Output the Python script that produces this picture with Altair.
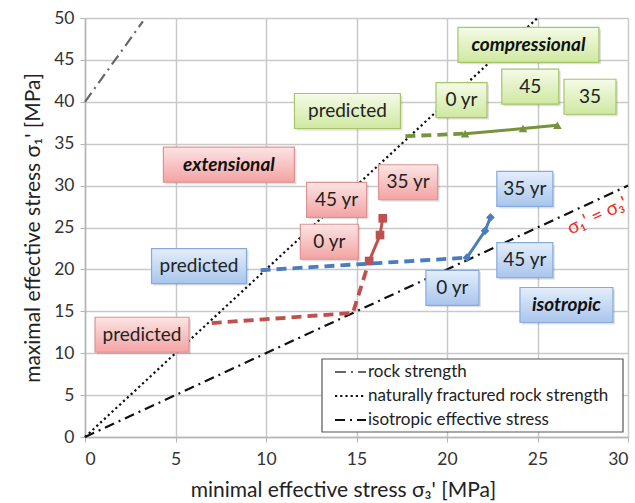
import altair as alt
import pandas as pd

# ---- axis ranges and plot size ----
X_MAX, Y_MAX = 30, 50
PLOT_W, PLOT_H = 543, 419
FONT = "Lato"

# ---- reference stress lines (sigma3', sigma1') ----
rock_x = [0.0, 3.2]
rock_y = [40.0, 49.6]
frac_x = [0.0, 25.0]
frac_y = [0.0, 50.0]
iso_x = [0.0, 30.0]
iso_y = [0.0, 30.0]
ref_names = ["rock strength", "naturally fractured rock strength", "isotropic effective stress"]
ref_colors = ["#666666", "#111111", "#111111"]
ref_dashes = [[11, 5, 2, 5], [2.2, 3], [10, 5, 2, 5]]

# ---- stress paths ----
ext_pred_x = [7.0, 14.8, 15.7]
ext_pred_y = [13.6, 14.8, 21.0]
ext_obs_x = [15.7, 16.3, 16.45]
ext_obs_y = [21.0, 24.1, 26.1]

iso_pred_x = [9.7, 21.1]
iso_pred_y = [19.9, 21.4]
iso_obs_x = [21.1, 22.1, 22.4]
iso_obs_y = [21.4, 24.6, 26.2]

cmp_pred_x = [17.7, 21.0]
cmp_pred_y = [35.9, 36.2]
cmp_obs_x = [21.0, 24.2, 26.1]
cmp_obs_y = [36.2, 36.8, 37.2]

# ---- annotation boxes ----
box_text = ["compressional", "45", "35", "0 yr", "predicted",
            "extensional", "45 yr", "35 yr", "0 yr", "predicted",
            "predicted", "35 yr", "45 yr", "0 yr", "isotropic"]
box_x = [24.5, 24.6, 27.9, 20.8, 14.5,
         7.95, 13.9, 17.85, 13.5, 3.15,
         6.3, 24.3, 24.3, 20.3, 26.6]
box_y = [46.8, 41.8, 40.6, 40.2, 38.9,
         32.5, 28.3, 30.4, 23.3, 12.2,
         20.4, 29.6, 21.1, 17.8, 15.75]
box_group = ["green"] * 5 + ["red"] * 5 + ["blue"] * 5
box_emph = [True, False, False, False, False,
            True, False, False, False, False,
            False, False, False, False, True]
# box widths in pixels
box_wpx = [141, 57, 52, 51, 106,
           131, 60, 59, 58, 94,
           95, 56, 56, 53, 93]
BOX_HPX = 35

px_x = PLOT_W / X_MAX
px_y = PLOT_H / Y_MAX

xs = alt.Scale(domain=[0, X_MAX], nice=False, zero=True)
ys = alt.Scale(domain=[0, Y_MAX], nice=False, zero=True)


def path_df(x, y):
    return pd.DataFrame({"s3": x, "s1": y, "o": list(range(len(x)))})


# reference lines
ref_rows = []
for name, xx, yy in zip(ref_names, [rock_x, frac_x, iso_x], [rock_y, frac_y, iso_y]):
    for i, (a, b) in enumerate(zip(xx, yy)):
        ref_rows.append({"s3": a, "s1": b, "line": name, "o": i})
ref_df = pd.DataFrame(ref_rows)

x_axis = alt.Axis(values=list(range(0, 31, 5)), title="minimal effective stress σ₃' [MPa]", titleX=258)
y_axis = alt.Axis(values=list(range(0, 51, 5)), title="maximal effective stress σ₁' [MPa]")

ref_lines = alt.Chart(ref_df).mark_line(strokeWidth=2.2).encode(
    x=alt.X("s3:Q", scale=xs, axis=x_axis),
    y=alt.Y("s1:Q", scale=ys, axis=y_axis),
    order="o:Q",
    color=alt.Color("line:N", scale=alt.Scale(domain=ref_names, range=ref_colors), legend=None),
    strokeDash=alt.StrokeDash("line:N", scale=alt.Scale(domain=ref_names, range=ref_dashes),
                              legend=None),
)


def dashed(x, y, color):
    return alt.Chart(path_df(x, y)).mark_line(color=color, strokeWidth=3.8, strokeDash=[10, 6]).encode(
        x=alt.X("s3:Q", scale=xs), y=alt.Y("s1:Q", scale=ys), order="o:Q")


def solid(x, y, color, shape, size):
    return alt.Chart(path_df(x, y)).mark_line(
        color=color, strokeWidth=3,
        point=alt.OverlayMarkDef(shape=shape, size=size, filled=True, color=color)).encode(
        x=alt.X("s3:Q", scale=xs), y=alt.Y("s1:Q", scale=ys), order="o:Q")


RED, BLUE, GREEN = "#c0504d", "#4a7ebb", "#77933c"
paths = [
    dashed(ext_pred_x, ext_pred_y, RED), solid(ext_obs_x, ext_obs_y, RED, "square", 75),
    dashed(iso_pred_x, iso_pred_y, BLUE), solid(iso_obs_x, iso_obs_y, BLUE, "diamond", 75),
    dashed(cmp_pred_x, cmp_pred_y, GREEN), solid(cmp_obs_x, cmp_obs_y, GREEN, "triangle-up", 75),
]

# sigma1' = sigma3' tag along the isotropic line
tag = alt.Chart(pd.DataFrame({"s3": [28.3], "s1": [26.4], "t": ["σ₁' = σ₃'"]})).mark_text(
    color="#e8302a", font=FONT, fontSize=19, angle=335, align="center", baseline="middle"
).encode(x=alt.X("s3:Q", scale=xs), y=alt.Y("s1:Q", scale=ys), text="t:N")

# annotation boxes
box_df = pd.DataFrame({
    "t": box_text, "cx": box_x, "cy": box_y, "g": box_group, "emph": box_emph, "w": box_wpx,
})
box_df["x0"] = box_df["cx"] - box_df["w"] / 2 / px_x
box_df["x1"] = box_df["cx"] + box_df["w"] / 2 / px_x
box_df["y0"] = box_df["cy"] - BOX_HPX / 2 / px_y
box_df["y1"] = box_df["cy"] + BOX_HPX / 2 / px_y

fills = {
    "green": ("#f5fbe8", "#cfe8a0", "#a6c46a"),
    "red": ("#fde4e4", "#f3a3a3", "#d99595"),
    "blue": ("#e4eefb", "#a9c5ec", "#86aadb"),
}

box_layers = []
for g, (top, bottom, edge) in fills.items():
    sub = box_df[box_df["g"] == g]
    enc = dict(x=alt.X("x0:Q", scale=xs), x2="x1:Q", y=alt.Y("y0:Q", scale=ys), y2="y1:Q")
    shadow = alt.Chart(sub).mark_rect(color="#000000", opacity=0.12, xOffset=2, x2Offset=2,
                                      yOffset=2, y2Offset=2).encode(**enc)
    body = alt.Chart(sub).mark_rect(
        fill=alt.Gradient(gradient="linear", x1=0, x2=0, y1=0, y2=1,
                          stops=[alt.GradientStop(color=top, offset=0),
                                 alt.GradientStop(color=bottom, offset=1)]),
        stroke=edge, strokeWidth=1.2).encode(**enc)
    box_layers += [shadow, body]

plain_text = alt.Chart(box_df[~box_df["emph"]]).mark_text(
    font=FONT, fontSize=19, color="#222", align="center", baseline="middle"
).encode(x=alt.X("cx:Q", scale=xs), y=alt.Y("cy:Q", scale=ys), text="t:N")
emph_text = alt.Chart(box_df[box_df["emph"]]).mark_text(
    font=FONT, fontSize=19, fontWeight="bold", fontStyle="italic", color="#111",
    align="center", baseline="middle"
).encode(x=alt.X("cx:Q", scale=xs), y=alt.Y("cy:Q", scale=ys), text="t:N")

# legend panel in the lower right corner of the plot (pixel offsets from plot origin)
LEG_LEFT, LEG_RIGHT, LEG_TOP, LEG_BOTTOM = 237, 538, 341, 414
LEG_ROW0, LEG_ROW_STEP = 354, 24
anchor = pd.DataFrame({"k": [0]})
legend_layers = [
    alt.Chart(anchor).mark_rect(fill="white", stroke="#555555", strokeWidth=1.2).encode(
        x=alt.value(LEG_LEFT), x2=alt.value(LEG_RIGHT), y=alt.value(LEG_TOP), y2=alt.value(LEG_BOTTOM))
]
for i, (name, col, dash) in enumerate(zip(ref_names, ref_colors, ref_dashes)):
    row_y = LEG_ROW0 + i * LEG_ROW_STEP
    legend_layers.append(
        alt.Chart(anchor).mark_rule(color=col, strokeDash=dash, strokeWidth=2.2).encode(
            x=alt.value(250), x2=alt.value(281), y=alt.value(row_y)))
    legend_layers.append(
        alt.Chart(pd.DataFrame({"t": [name]})).mark_text(
            font=FONT, fontSize=17, color="#222", align="left", baseline="middle").encode(
            x=alt.value(283), y=alt.value(row_y), text="t:N"))

chart = alt.layer(ref_lines, *paths, tag, *box_layers, plain_text, emph_text, *legend_layers).properties(
    width=PLOT_W, height=PLOT_H,
    padding={"left": 85, "top": 18, "right": 7, "bottom": 66},
    autosize=alt.AutoSizeParams(type="none"),
).configure_view(stroke=None).configure_axis(
    grid=True, gridColor="#c9c9c9", gridWidth=1.5,
    domainColor="#b5b5b5", domainWidth=1.5,
    tickColor="#b5b5b5", tickSize=5,
    labelFont=FONT, labelFontSize=17.5, labelColor="#333",
    titleFont=FONT, titleFontSize=21, titleFontWeight="normal", titleColor="#222",
).configure_axisX(labelPadding=8, titlePadding=12).configure_axisY(labelPadding=6, titlePadding=10)

chart.save("out.html", embed_options={"renderer": "svg", "actions": False})
